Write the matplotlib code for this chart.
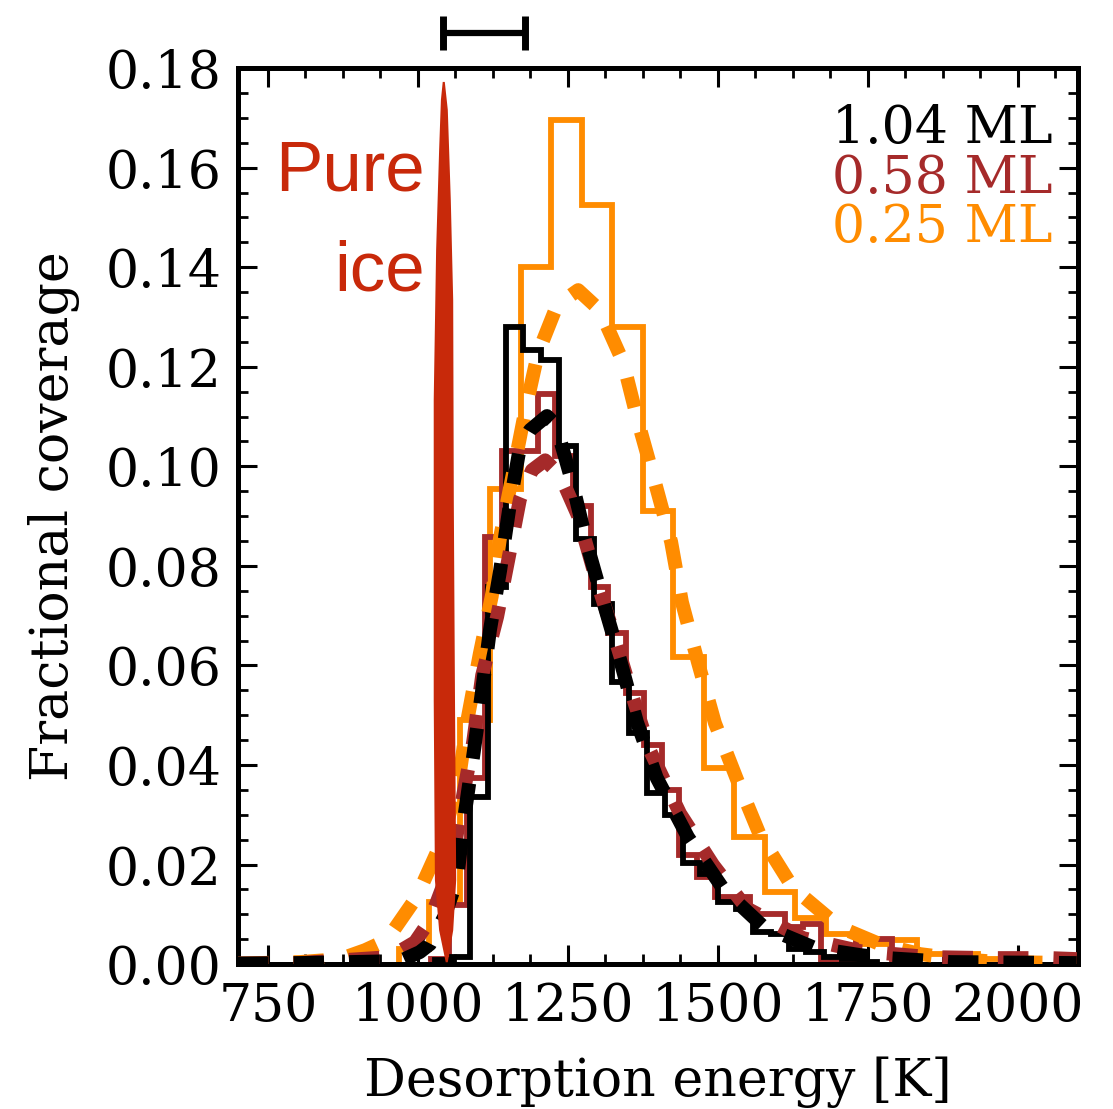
import numpy as np
import matplotlib
matplotlib.use('Agg')
import matplotlib.pyplot as plt
from matplotlib.ticker import MultipleLocator

plt.rcParams['font.family'] = 'DejaVu Serif'

# binned desorption-energy distributions (K, fractional coverage)
edges_104 = [1028.0, 1057.5, 1087.0, 1116.5, 1146.0, 1175.5, 1205.0, 1234.5, 1264.0,
             1293.5, 1323.0, 1352.5, 1382.0, 1411.5, 1441.0, 1470.5, 1500.0, 1529.5,
             1559.0, 1588.5, 1618.0, 1647.5, 1677.0, 1706.5, 1736.0, 1765.5]
hist_104 = [0.0008, 0.0015, 0.0335, 0.0757, 0.128, 0.1233, 0.1213, 0.104, 0.0854,
            0.0723, 0.0566, 0.0464, 0.0343, 0.030, 0.0203, 0.018, 0.0125, 0.011,
            0.0065, 0.006, 0.003, 0.0025, 0.0015, 0.001, 0.0005]

edges_058 = [1022.5, 1052.0, 1081.5, 1111.0, 1140.5, 1170.0, 1199.5, 1229.0, 1258.5,
             1288.0, 1317.5, 1347.0, 1376.5, 1406.0, 1435.5, 1465.0, 1494.5, 1524.0,
             1553.5, 1583.0, 1612.5, 1642.0, 1671.5, 1701.0, 1730.5, 1760.0, 1789.5,
             1819.0]
hist_058 = [0.001, 0.0119, 0.0373, 0.0858, 0.103, 0.103, 0.1145, 0.102, 0.092,
            0.0757, 0.0665, 0.0545, 0.044, 0.035, 0.022, 0.0175, 0.0135, 0.0135,
            0.010, 0.010, 0.0075, 0.008, 0.0005, 0.0005, 0.005, 0.005, 0.0005]

edges_025 = [968.3, 1019.2, 1070.0, 1120.8, 1171.7, 1222.5, 1273.3, 1324.2, 1375.0,
             1425.8, 1476.7, 1527.5, 1578.3, 1629.2, 1680.0, 1730.8, 1781.7, 1832.5,
             1883.3, 1934.2, 1985.0, 2035.8]
hist_025 = [0.003, 0.0125, 0.049, 0.0955, 0.14, 0.1695, 0.1525, 0.128, 0.091,
            0.0617, 0.0394, 0.0255, 0.0145, 0.0092, 0.006, 0.004, 0.0048, 0.002,
            0.002, 0.001, 0.0005]

# fitted distributions
fit_104_x = [700, 803, 970, 1003, 1020, 1045, 1065, 1078, 1093, 1107, 1120, 1137, 1153,
             1170, 1187, 1215, 1230, 1257, 1282, 1310, 1337, 1365, 1398, 1450, 1510,
             1575, 1662, 1737, 1782, 1887, 2098]
fit_104_y = [0.0001, 0.0002, 0.0006, 0.0024, 0.004, 0.0098, 0.0169, 0.0301, 0.0426, 0.055,
             0.0671, 0.0791, 0.0922, 0.1039, 0.1073, 0.1101, 0.1083, 0.0968, 0.0842,
             0.0723, 0.0611, 0.0486, 0.0374, 0.0255, 0.0149, 0.0076, 0.0032, 0.0018,
             0.0012, 0.0004, 0.0002]

fit_058_x = [700, 803, 953, 995, 1020, 1058, 1075, 1092, 1107, 1132, 1150, 1170, 1190,
             1212, 1237, 1267, 1295, 1327, 1358, 1387, 1437, 1492, 1548, 1642, 1737,
             1853, 1953, 2053, 2098]
fit_058_y = [0.0001, 0.0002, 0.0014, 0.0044, 0.0088, 0.0209, 0.0337, 0.0446, 0.058, 0.0698,
             0.0809, 0.0934, 0.0992, 0.1012, 0.0982, 0.09, 0.0781, 0.066, 0.0536,
             0.0428, 0.0302, 0.0199, 0.0112, 0.0052, 0.0026, 0.0014, 0.0012, 0.0012,
             0.001]

fit_025_x = [700, 803, 870, 912, 948, 998, 1037, 1067, 1083, 1103, 1123, 1137, 1158, 1178,
             1200, 1232, 1267, 1303, 1342, 1367, 1395, 1422, 1440, 1467, 1495, 1532,
             1570, 1625, 1703, 1770, 1837, 1903, 1970, 2098]
fit_025_y = [0.0001, 0.0004, 0.001, 0.0028, 0.0048, 0.0135, 0.0239, 0.036, 0.0494, 0.0623,
             0.0739, 0.0858, 0.0984, 0.1107, 0.1227, 0.1324, 0.1354, 0.1314, 0.1209,
             0.1089, 0.0968, 0.0848, 0.0727, 0.0605, 0.0484, 0.037, 0.0259, 0.0153,
             0.0074, 0.004, 0.002, 0.001, 0.0004, 0.0002]

# pure ice peak outline
pure_x = [1048, 1037, 1030, 1028, 1028, 1032, 1037, 1040, 1043,
          1048, 1053, 1057, 1058, 1060, 1062, 1057, 1048]
pure_y = [0.0004, 0.0068, 0.0169, 0.053, 0.1133, 0.1434, 0.1635, 0.1736, 0.1772,
          0.1716, 0.1535, 0.1334, 0.0932, 0.053, 0.0169, 0.0068, 0.0004]

# spread bar above the axes
bar_center = 1110
bar_half = 68
bar_y = 0.187

labels = ['1.04 ML', '0.58 ML', '0.25 ML']
colors = ['black', '#a52a2a', '#ff8c00']
ice_color = '#c8290a'

fig = plt.figure(figsize=(11.13, 11.09), dpi=100)
ax = fig.add_axes([0.2138, 0.1307, 0.7547, 0.8079])

ax.stairs(hist_025, edges_025, color=colors[2], lw=4.2, zorder=2)
ax.stairs(hist_058, edges_058, color=colors[1], lw=4.2, zorder=2)
ax.stairs(hist_104, edges_104, color=colors[0], lw=4.2, zorder=2)

dash = (0, (2.2, 1.8))
ax.plot(fit_025_x, fit_025_y, color=colors[2], lw=10, ls=dash, zorder=3)
ax.plot(fit_058_x, fit_058_y, color=colors[1], lw=10, ls=dash, zorder=3)
ax.plot(fit_104_x, fit_104_y, color=colors[0], lw=10, ls=dash, zorder=3)

ax.fill(pure_x, pure_y, color=ice_color, lw=1.5, zorder=4)
ax.text(1012, 0.1555, 'Pure', color=ice_color, fontsize=51, family='Liberation Sans',
        ha='right', va='baseline')
ax.text(1012, 0.1354, 'ice', color=ice_color, fontsize=51, family='Liberation Sans',
        ha='right', va='baseline')

eb = ax.errorbar([bar_center], [bar_y], xerr=[[bar_half], [bar_half]], fmt='none',
                 ecolor='black', elinewidth=4.5, capsize=12, capthick=5)
for a in eb.get_children():
    a.set_clip_on(False)

for i, (lab, c) in enumerate(zip(labels, colors)):
    ax.text(2058, 0.1649 - 0.0099 * i, lab, color=c, fontsize=37.5,
            ha='right', va='baseline')

ax.set_xlim(700, 2100)
ax.set_ylim(0, 0.18)
ax.xaxis.set_major_locator(MultipleLocator(250))
ax.xaxis.set_minor_locator(MultipleLocator(62.5))
ax.yaxis.set_major_locator(MultipleLocator(0.02))
ax.yaxis.set_minor_locator(MultipleLocator(0.005))
ax.yaxis.set_major_formatter(plt.FormatStrFormatter('%.2f'))

ax.tick_params(which='both', direction='in', top=True, right=True)
ax.tick_params(which='major', length=14, width=2.2, labelsize=37.5, pad=12)
ax.tick_params(which='minor', length=7, width=2)
for s in ax.spines.values():
    s.set_linewidth(3.6)

ax.set_xlabel('Desorption energy [K]', fontsize=37.5, labelpad=18)
ax.set_ylabel('Fractional coverage', fontsize=37.5, labelpad=18)

fig.savefig('out.png', dpi=100)
